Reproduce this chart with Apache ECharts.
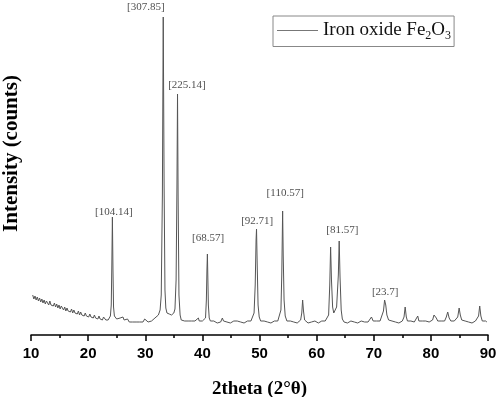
<!DOCTYPE html>
<html><head><meta charset="utf-8">
<script src="https://cdn.jsdelivr.net/npm/echarts@6/dist/echarts.min.js"></script>
<style>html,body{margin:0;padding:0;background:#fff}#c{width:498px;height:397px}</style>
</head><body><div id="c"></div>
<script>
// 2theta positions (degrees)
var twoTheta = [
10.3,10.5,10.7,10.9,11.1,11.3,11.5,11.7,11.9,12.1,12.3,12.5,12.7,12.9,13.1,13.3,13.5,13.7,13.9,14.1,14.3,14.5,14.7,14.9,15.1,15.3,15.5,15.7,15.9,16.1,16.3,16.5,16.7,16.9,17.1,17.3,17.5,17.7,17.9,18.1,18.3,18.5,18.7,18.9,19.1,19.3,19.5,19.7,19.9,20.1,20.3,20.5,20.7,20.9,21.1,21.3,21.5,21.7,21.9,22.1,22.3,22.5,22.7,22.9,23.1,23.3,23.5,23.7,
23.9,24.05,24.15,24.25,24.35,24.45,24.6,24.8,
25.0,25.3,25.6,25.9,26.1,26.3,26.6,26.9,27.2,27.5,27.8,28.1,28.4,28.7,29.0,29.3,29.6,29.9,30.2,30.5,30.8,31.1,31.4,31.7,32.0,32.3,32.6,32.8,33.0,33.15,33.3,33.45,33.6,33.8,34.0,34.2,34.4,34.6,34.8,35.0,35.2,35.4,35.55,35.65,35.75,35.9,36.1,36.3,36.6,36.9,37.2,37.5,37.8,38.1,38.4,38.7,39.0,39.3,39.45,39.7,40.0,40.3,40.55,40.7,40.8,40.88,40.95,41.05,41.2,41.4,41.7,42.0,42.3,42.6,42.9,43.2,43.5,43.7,44.0,
44.3,44.6,44.9,45.2,45.5,45.8,46.1,46.4,46.7,47.0,47.3,47.6,47.9,48.2,48.5,48.8,49.05,49.25,49.4,49.48,49.6,49.75,49.95,50.2,50.5,50.8,51.1,51.4,51.7,52.0,52.3,52.6,52.9,53.2,53.5,53.75,53.9,54.05,54.15,54.3,54.5,54.8,55.1,55.4,55.7,56.0,56.3,56.6,56.9,57.2,57.4,57.55,57.7,57.9,58.2,58.5,58.8,59.1,59.4,59.7,60.0,60.3,60.6,60.9,61.2,61.5,61.8,62.1,62.3,62.45,62.6,62.8,63.0,63.2,63.5,63.8,63.95,64.1,64.3,64.5,64.8,65.1,65.4,65.7,66.0,66.3,66.6,66.9,67.2,67.5,67.8,68.1,68.4,68.7,69.0,69.3,69.6,69.9,70.2,70.5,70.8,71.1,71.4,71.7,71.9,72.1,72.3,72.6,72.9,73.2,73.5,73.8,74.1,74.4,74.7,75.0,75.3,75.5,75.7,75.9,76.2,76.5,76.8,77.1,77.4,77.7,77.9,78.2,78.5,78.8,79.1,79.4,79.7,80.0,80.3,80.55,80.75,80.95,81.2,81.5,81.8,82.1,82.4,82.7,82.95,83.2,83.5,83.8,84.1,84.4,84.7,84.95,85.15,85.4,85.7,86.0,86.3,86.6,86.9,87.2,87.5,87.8,88.1,88.35,88.55,88.75,89.0,89.3,89.6,89.8
];
// intensity (counts)
var intensity = [
40,36,39,35,38,34,37,33,36,32,35,31,34,32,30,34,30,32,29,32,28,31,27,30,26,29,28,25,28,24,27,24,26,23,26,22,25,22,24,21,24,20,23,20,22,19,22,19,21,18,21,18,20,17,20,17,19,16,19,16,18,15,18,17,15,17,15,17,
19,30,70,118,65,28,19,17,
16,14,17,15,18,15,14,16,13,15,13,15,13,15,13,15,13,16,14,13,15,14,16,17,18,20,25,40,140,318,150,45,27,22,20,21,22,20,21,22,26,55,150,241,140,40,20,15,13,14,12,14,13,14,12,14,13,17,14,12,14,13,17,35,65,81,60,30,17,14,12,14,13,12,14,13,17,14,12,
13,14,12,13,14,12,14,12,13,14,12,13,14,13,14,16,22,50,95,106,70,30,18,14,12,14,12,13,14,12,13,14,12,14,16,25,60,124,80,35,19,14,12,14,12,13,14,12,13,15,22,35,24,15,13,12,14,13,12,14,13,12,13,14,12,14,15,20,50,88,55,28,22,22,28,60,94,58,25,16,13,14,12,13,14,12,13,14,12,13,14,12,13,14,13,15,18,14,12,14,13,14,16,24,35,30,20,15,13,14,12,13,14,12,13,14,18,28,18,14,12,14,12,13,14,19,14,12,14,13,14,12,13,14,15,20,22,17,14,12,14,13,14,18,23,17,14,12,14,14,18,27,20,15,13,14,12,13,14,12,13,14,14,19,29,19,14,13,14,13
];
// peak annotations
var peakLabels = ['[104.14]','[307.85]','[225.14]','[68.57]','[92.71]','[110.57]','[81.57]','[23.7]'];
var labelX = [24.5,30.1,37.3,41.0,49.6,54.5,64.5,72.0];
var labelY = [123,328,250,97,114,142,105,43];
var xTicks = [10,20,30,40,50,60,70,80,90];

var chart = echarts.init(document.getElementById('c'), null, {renderer:'canvas'});
var lineData = twoTheta.map(function(x,i){return [x,intensity[i]];});
var labelData = labelX.map(function(x,i){return {value:[x,labelY[i]], name:peakLabels[i]};});
chart.setOption({
  animation:false,
  backgroundColor:'#fff',
  grid:{left:31,right:10,top:0,bottom:62,containLabel:false,outerBoundsMode:'none'},
  legend:{
    show:true, data:['Iron oxide Fe2O3'],
    left:273, top:16, orient:'horizontal',
    padding:[5,3,5,4],
    borderColor:'#888', borderWidth:1,
    icon:'rect', itemWidth:41, itemHeight:1,
    itemStyle:{color:'#777'},
    formatter:function(){return '{n|Iron oxide Fe}{s|2}{n|O}{s|3}';},
    textStyle:{fontFamily:'Liberation Serif', fontSize:19, color:'#111',
      rich:{
        n:{fontFamily:'Liberation Serif', fontSize:19, color:'#111'},
        s:{fontFamily:'Liberation Serif', fontSize:12, color:'#111', padding:[10,0,0,0]}}}
  },
  xAxis:{
    type:'value', min:xTicks[0], max:xTicks[xTicks.length-1], interval:10,
    name:'2theta (2°θ)', nameLocation:'middle', nameGap:45,
    nameTextStyle:{fontFamily:'Liberation Serif', fontWeight:'bold', fontSize:19, color:'#000'},
    axisLine:{show:true, onZero:false, lineStyle:{color:'#000', width:1.5}},
    axisTick:{show:true, inside:false, length:6, lineStyle:{color:'#000', width:1.5}},
    minorTick:{show:true, splitNumber:2, length:3, lineStyle:{color:'#000', width:1.5}},
    axisLabel:{fontFamily:'Liberation Sans', fontWeight:'bold', fontSize:15, color:'#000', margin:11},
    splitLine:{show:false}
  },
  yAxis:{
    type:'value', min:0, max:335,
    name:'Intensity (counts)', nameLocation:'middle', nameGap:9,
    nameTextStyle:{fontFamily:'Liberation Serif', fontWeight:'bold', fontSize:21, color:'#000', padding:[0,0,0,28]},
    axisLine:{show:false}, axisTick:{show:false}, axisLabel:{show:false}, splitLine:{show:false}
  },
  series:[
    {name:'Iron oxide Fe2O3', type:'line', data:lineData, showSymbol:false, symbol:'none',
     lineStyle:{color:'#555', width:1}, itemStyle:{color:'#777'}, clip:false},
    {name:'labels', type:'scatter', data:labelData, symbolSize:0, clip:false,
     label:{show:true, position:'inside', formatter:function(p){return p.name;},
       fontFamily:'Liberation Serif', fontSize:11, color:'#222'}}
  ]
});
</script></body></html>
